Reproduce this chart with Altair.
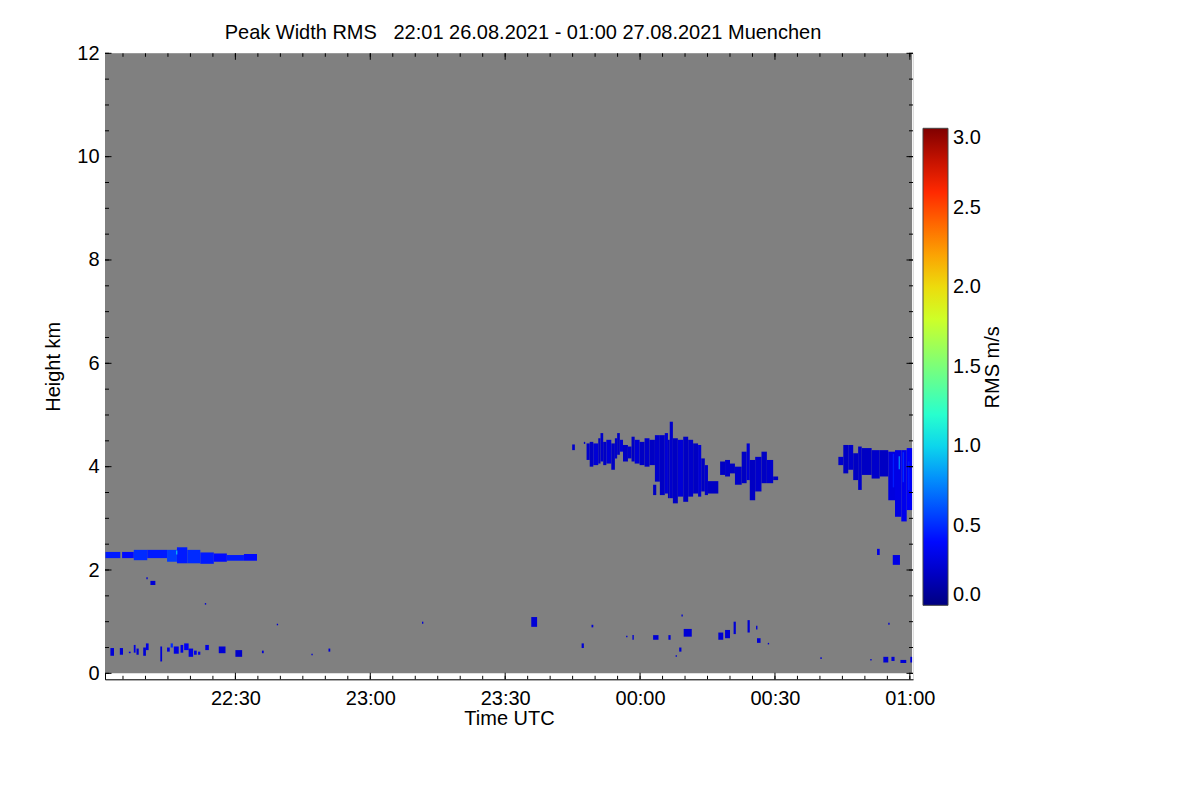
import altair as alt
import pandas as pd

# ---------------- data (time = minutes after 22:00 UTC, height in km, value = RMS m/s)
T_FIRST, T_LAST = 1.0, 180.5          # 22:01 .. 01:00
H_LOW, H_HIGH = 0.0, 12.0

cloud_a = [
    (104.9, 105.5, 4.32, 4.43, 0.22), (107.5, 107.8, 4.44, 4.48, 0.22),
    (108.1, 108.8, 4.13, 4.45, 0.22), (108.8, 109.6, 4.00, 4.48, 0.20),
    (109.6, 110.7, 4.03, 4.45, 0.25), (110.7, 111.2, 4.06, 4.55, 0.20),
    (111.2, 111.8, 4.10, 4.65, 0.22), (111.8, 112.5, 4.03, 4.48, 0.20),
    (112.5, 113.6, 4.06, 4.52, 0.25), (113.6, 114.4, 3.94, 4.45, 0.20),
    (114.4, 114.9, 4.16, 4.55, 0.22), (114.9, 115.5, 4.23, 4.65, 0.20),
    (115.5, 116.2, 4.29, 4.52, 0.25), (116.2, 117.3, 4.10, 4.42, 0.20),
    (117.3, 118.1, 4.16, 4.39, 0.22), (118.1, 118.8, 4.10, 4.58, 0.20),
    (118.8, 119.9, 4.06, 4.52, 0.25), (119.9, 121.0, 4.03, 4.48, 0.20),
    (121.0, 122.1, 4.00, 4.55, 0.22), (122.1, 123.3, 4.03, 4.52, 0.20),
    (122.9, 123.6, 3.45, 3.65, 0.20), (123.3, 124.4, 3.71, 4.61, 0.22),
    (124.4, 125.5, 3.45, 4.61, 0.20), (125.5, 126.2, 3.48, 4.65, 0.25),
    (126.2, 126.6, 3.39, 4.52, 0.20), (126.6, 127.3, 3.39, 4.87, 0.22),
    (127.3, 128.4, 3.29, 4.55, 0.20), (128.4, 129.6, 3.42, 4.52, 0.25),
    (129.6, 130.7, 3.32, 4.58, 0.20), (130.7, 131.8, 3.42, 4.52, 0.22),
    (131.8, 132.9, 3.48, 4.45, 0.20), (132.9, 133.6, 3.42, 4.42, 0.25),
    (133.6, 134.4, 3.52, 4.16, 0.20), (134.4, 135.1, 3.45, 4.03, 0.22),
    (135.1, 137.4, 3.48, 3.72, 0.20),
]

cloud_b = [
    (137.8, 138.9, 3.84, 4.10, 0.20), (138.9, 140.0, 3.81, 4.13, 0.22),
    (140.0, 141.1, 3.87, 4.06, 0.20), (141.1, 142.6, 3.65, 4.00, 0.22),
    (142.6, 143.7, 3.68, 4.29, 0.20), (143.7, 144.4, 3.74, 4.45, 0.25),
    (144.4, 145.6, 3.35, 4.13, 0.20), (145.6, 147.0, 3.52, 4.19, 0.22),
    (147.0, 148.2, 3.68, 4.29, 0.20), (148.2, 149.6, 3.68, 4.13, 0.22),
    (149.6, 150.7, 3.74, 3.81, 0.20),
]

cloud_c = [
    (164.1, 165.2, 4.03, 4.19, 0.22), (165.2, 166.3, 3.87, 4.42, 0.20),
    (166.3, 167.4, 3.94, 4.42, 0.22), (167.4, 168.5, 3.74, 4.26, 0.20),
    (168.5, 169.3, 3.55, 4.39, 0.22), (169.3, 171.5, 3.84, 4.36, 0.20),
    (171.5, 173.3, 3.77, 4.32, 0.22), (173.3, 175.2, 3.81, 4.32, 0.20),
    (175.2, 176.7, 3.35, 4.29, 0.28), (176.7, 178.1, 3.03, 4.32, 0.30),
    (178.1, 179.3, 2.94, 4.32, 0.32), (179.3, 180.5, 3.16, 4.36, 0.35),
    (176.2, 176.5, 3.60, 4.25, 0.45), (178.4, 178.7, 3.70, 4.28, 0.50),
    (177.5, 177.8, 3.95, 4.20, 0.75), (179.6, 179.9, 3.55, 4.10, 0.45),
]

layer_23 = [
    (1.1, 4.4, 2.23, 2.35, 0.45), (4.8, 7.4, 2.23, 2.35, 0.40),
    (7.4, 10.4, 2.19, 2.39, 0.50), (10.4, 14.8, 2.23, 2.39, 0.45),
    (14.8, 17.0, 2.16, 2.39, 0.55), (17.0, 19.3, 2.13, 2.44, 0.45),
    (19.3, 22.2, 2.13, 2.39, 0.50), (22.2, 25.2, 2.12, 2.34, 0.45),
    (25.2, 28.1, 2.16, 2.32, 0.40), (28.1, 31.9, 2.18, 2.29, 0.45),
    (31.9, 34.8, 2.18, 2.31, 0.40), (16.8, 17.1, 2.30, 2.38, 0.90),
]

low_bits = [
    (2.2, 3.0, 0.34, 0.49, 0.25), (4.3, 5.0, 0.36, 0.49, 0.25),
    (6.3, 6.7, 0.39, 0.42, 0.30), (7.4, 7.8, 0.40, 0.55, 0.30),
    (8.0, 8.5, 0.36, 0.48, 0.25), (9.5, 10.1, 0.34, 0.50, 0.25),
    (10.1, 10.7, 0.45, 0.58, 0.30), (13.3, 13.7, 0.23, 0.52, 0.25),
    (14.8, 15.4, 0.42, 0.50, 0.30), (15.6, 16.1, 0.50, 0.58, 0.50),
    (16.3, 17.4, 0.38, 0.52, 0.30), (17.8, 18.4, 0.40, 0.55, 0.30),
    (18.6, 19.6, 0.45, 0.58, 0.35), (19.6, 20.6, 0.32, 0.48, 0.30),
    (20.8, 21.4, 0.36, 0.44, 0.30), (21.7, 22.2, 0.36, 0.42, 0.30),
    (23.3, 24.1, 0.45, 0.55, 0.30), (26.3, 27.8, 0.39, 0.52, 0.25),
    (30.0, 31.5, 0.32, 0.45, 0.22), (35.9, 36.3, 0.39, 0.44, 0.25),
    (46.9, 47.2, 0.35, 0.38, 0.25), (50.7, 51.1, 0.42, 0.48, 0.25),
]

mid_bits = [
    (10.2, 10.5, 1.82, 1.86, 0.25), (11.1, 12.2, 1.71, 1.79, 0.25),
    (23.2, 23.5, 1.33, 1.36, 0.25), (39.2, 39.5, 0.93, 0.96, 0.25),
    (71.5, 71.8, 0.96, 1.00, 0.25), (95.8, 97.1, 0.90, 1.09, 0.25),
    (107.0, 107.5, 0.49, 0.58, 0.25), (109.2, 109.6, 0.89, 0.94, 0.25),
    (116.9, 117.2, 0.70, 0.73, 0.25), (118.3, 118.6, 0.65, 0.74, 0.25),
    (122.9, 124.1, 0.65, 0.74, 0.25), (126.3, 126.8, 0.65, 0.74, 0.25),
    (128.7, 129.2, 0.42, 0.50, 0.25), (127.9, 128.2, 0.32, 0.35, 0.25),
    (129.2, 129.5, 1.10, 1.14, 0.25), (129.7, 131.5, 0.71, 0.86, 0.25),
    (137.4, 138.5, 0.65, 0.79, 0.25), (138.9, 140.0, 0.68, 0.84, 0.25),
    (140.8, 141.3, 0.76, 1.00, 0.25), (143.9, 144.4, 0.79, 1.03, 0.25),
    (145.8, 146.1, 0.85, 0.92, 0.25), (146.0, 146.8, 0.59, 0.68, 0.25),
    (148.4, 148.7, 0.56, 0.59, 0.25), (160.1, 160.4, 0.28, 0.31, 0.25),
    (171.2, 171.5, 0.25, 0.28, 0.25), (174.1, 175.2, 0.21, 0.32, 0.25),
    (175.9, 176.6, 0.24, 0.32, 0.25), (177.9, 179.2, 0.20, 0.26, 0.25),
    (180.1, 180.5, 0.21, 0.32, 0.25), (175.2, 175.5, 0.94, 0.98, 0.25),
    (172.7, 173.3, 2.29, 2.41, 0.30), (176.2, 177.8, 2.10, 2.29, 0.30),
]

x_major = [30, 60, 90, 120, 150, 180]
x_labels = ["22:30", "23:00", "23:30", "00:00", "00:30", "01:00"]
x_minor = list(range(5, 181, 5))
y_major = [0, 2, 4, 6, 8, 10, 12]
y_minor = [v / 2 for v in range(0, 25)]
cbar_values = [0.0, 0.5, 1.0, 1.5, 2.0, 2.5, 3.0]
jet_domain = [0, 0.375, 0.75, 1.125, 1.5, 1.875, 2.25, 2.625, 3.0]
jet_colors = ["#000080", "#0000ff", "#0080ff", "#14ffe3", "#7aff7a",
              "#e3ff14", "#ff9600", "#ff2100", "#800000"]

title_text = "Peak Width RMS\u00a0\u00a0\u00a022:01 26.08.2021 - 01:00 27.08.2021 Muenchen"

# ---------------- chart
FONT = "Liberation Sans"
FS = 20
W, H = 808, 626
cols = ["t0", "t1", "h0", "h1", "v"]
echo = pd.DataFrame(layer_23 + low_bits + mid_bits + cloud_a + cloud_b + cloud_c, columns=cols)
bg = pd.DataFrame([(T_FIRST, T_LAST, H_LOW, H_HIGH)], columns=["t0", "t1", "h0", "h1"])

xscale = alt.Scale(domain=[1.0, 180.7], nice=False, zero=False)
yscale = alt.Scale(domain=[-0.115, 12.0], nice=False, zero=False)

label_expr = "[" + ",".join(f"'{s}'" for s in x_labels) + "][indexof([" + \
    ",".join(str(v) for v in x_major) + "], datum.value)]"

xaxis = alt.Axis(title="Time UTC", values=x_major, labelExpr=label_expr, ticks=False,
                 grid=False, domainColor="black", labelFlush=False, labelPadding=9,
                 labelFont=FONT, labelFontSize=FS, labelColor="black",
                 titleFont=FONT, titleFontSize=FS, titleFontWeight="normal",
                 titleColor="black", titlePadding=0)
yaxis = alt.Axis(title="Height km", values=y_major, format="d", ticks=False, grid=False,
                 domainColor="black", labelPadding=6, labelFont=FONT, labelFontSize=FS,
                 labelColor="black", titleFont=FONT, titleFontSize=FS,
                 titleFontWeight="normal", titleColor="black", titlePadding=13)

background = alt.Chart(bg).mark_rect(color="#808080").encode(
    x=alt.X("t0:Q", scale=xscale, axis=xaxis), x2="t1:Q",
    y=alt.Y("h0:Q", scale=yscale, axis=yaxis), y2="h1:Q")

cells = alt.Chart(echo).mark_rect().encode(
    x=alt.X("t0:Q", scale=xscale, axis=xaxis), x2="t1:Q",
    y=alt.Y("h0:Q", scale=yscale, axis=yaxis), y2="h1:Q",
    color=alt.Color("v:Q",
                    scale=alt.Scale(domain=jet_domain, range=jet_colors, interpolate="rgb"),
                    legend=alt.Legend(title=None, orient="none", direction="vertical",
                                      legendX=818, legendY=75, gradientLength=477,
                                      gradientThickness=25, values=cbar_values, format=".1f",
                                      labelFont=FONT, labelFontSize=FS, labelColor="black",
                                      labelOffset=5, labelOverlap=False, padding=0,
                                      gradientStrokeColor="#444444", gradientStrokeWidth=1)))


def tick_layer(vals, horizontal, side, length):
    df = pd.DataFrame({"p": vals})
    if horizontal:  # ticks on x axis (vertical short lines)
        enc = dict(x=alt.X("p:Q", scale=xscale, axis=xaxis))
        if side == "bottom":
            enc.update(y=alt.value(H), y2=alt.value(H - length))
        else:
            enc.update(y=alt.value(0), y2=alt.value(length))
    else:
        enc = dict(y=alt.Y("p:Q", scale=yscale, axis=yaxis))
        if side == "left":
            enc.update(x=alt.value(0), x2=alt.value(length))
        else:
            enc.update(x=alt.value(W), x2=alt.value(W - length))
    return alt.Chart(df).mark_rule(color="black", strokeWidth=1).encode(**enc)


ticks = [
    tick_layer(x_minor, True, "bottom", 3.5), tick_layer(x_major, True, "bottom", 6.5),
    tick_layer(x_minor, True, "top", 3.5), tick_layer(x_major, True, "top", 6.5),
    tick_layer(y_minor, False, "left", 4), tick_layer(y_major, False, "left", 6.5),
    tick_layer(y_minor, False, "right", 4), tick_layer(y_major, False, "right", 6.5),
]

cbar_title = alt.Chart(pd.DataFrame({"a": [0]})).mark_text(
    text="RMS m/s", angle=270, font=FONT, fontSize=FS, color="black",
    align="center", baseline="alphabetic").encode(x=alt.value(894), y=alt.value(314))

chart = alt.layer(background, cells, *ticks, cbar_title).properties(
    width=W, height=H,
    title=alt.TitleParams(title_text, font=FONT, fontSize=FS, fontWeight="normal",
                          color="black", anchor="middle", frame="group", dx=14, offset=0),
    autosize=alt.AutoSizeParams(type="none"),
    padding={"left": 97, "top": 45.3, "right": 180, "bottom": 100},
).configure_view(stroke="black", strokeWidth=1).configure(background="white")

chart.save("out.html", embed_options={"renderer": "svg", "actions": False})
